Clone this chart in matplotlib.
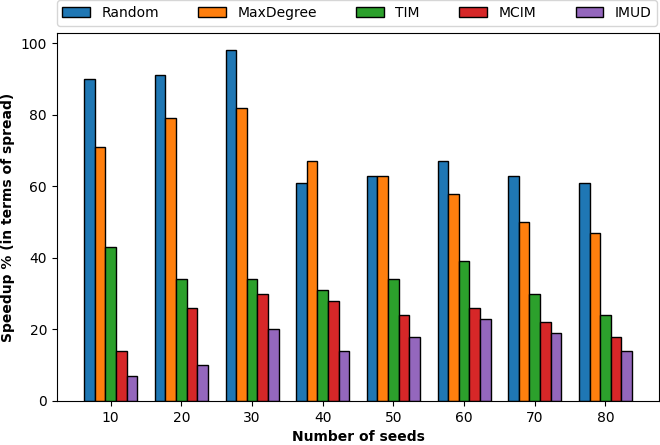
import matplotlib.pyplot as plt
import numpy as np

seeds = [10, 20, 30, 40, 50, 60, 70, 80]
methods = ['Random', 'MaxDegree', 'TIM', 'MCIM', 'IMUD']
random_vals = [90, 91, 98, 61, 63, 67, 63, 61]
maxdegree_vals = [71, 79, 82, 67, 63, 58, 50, 47]
tim_vals = [43, 34, 34, 31, 34, 39, 30, 24]
mcim_vals = [14, 26, 30, 28, 24, 26, 22, 18]
imud_vals = [7, 10, 20, 14, 18, 23, 19, 14]

colors = ['#1f77b4', '#ff7f0e', '#2ca02c', '#d62728', '#9467bd']

fig, ax = plt.subplots(figsize=(6.6, 4.45), dpi=100)
fig.subplots_adjust(left=0.086, right=0.999, top=0.926, bottom=0.099)

x = np.arange(len(seeds))
bar_width = 0.15
all_vals = [random_vals, maxdegree_vals, tim_vals, mcim_vals, imud_vals]
for i, (name, vals) in enumerate(zip(methods, all_vals)):
    ax.bar(x + (i - 2) * bar_width, vals, width=bar_width, color=colors[i],
           edgecolor='black', linewidth=1, label=name)

ax.set_xticks(x)
ax.set_xticklabels([str(s) for s in seeds])
ax.set_xlabel('Number of seeds', fontweight='bold')
ax.set_ylabel('Speedup % (in terms of spread)', fontweight='bold')
ax.tick_params(labelsize=10)

ax.legend(loc='lower left', bbox_to_anchor=(0, 1.02), ncol=5,
          borderaxespad=0, fontsize=10, columnspacing=2.85)

plt.savefig('out.png', dpi=100)
